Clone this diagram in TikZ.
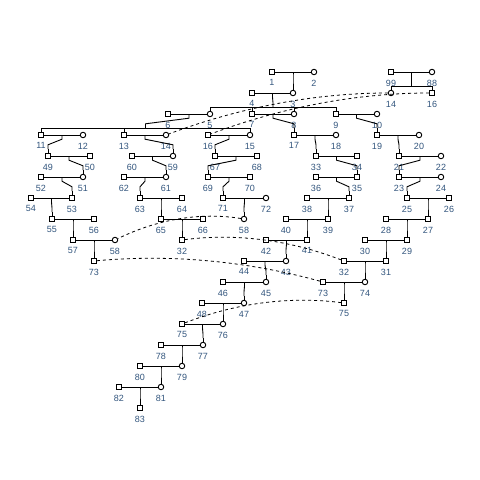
\documentclass[tikz,border=0pt]{standalone}
\usepackage{fontspec}
\setmainfont{Liberation Sans}
\usetikzlibrary{calc}
\usetikzlibrary{positioning}

\definecolor{labelcol}{RGB}{50,85,125}

\tikzset{
  male/.style={draw, rectangle, minimum size=5pt, inner sep=0pt, fill=white},
  female/.style={draw, circle, minimum size=5.5pt, inner sep=0pt, fill=white},
  every label/.style={font=\fontsize{9}{10}\selectfont, text=labelcol},
  dupl/.style={line width=0.8pt, dash pattern=on 3pt off 3pt}
}

% parents #1 #2, first child #3, last child #4
\newcommand{\sibs}[4]{%
  \draw ($(#1)!.5!(#2)$) -- ++(0,4.2) -- ($(#3)!.5!(#4)+(0,-11.2)$) -- ++(0,4.2);
  \draw ($(#3)+(0,-7)$) -- ($(#4)+(0,-7)$);}

% same person drawn twice
\newcommand{\dup}[2]{%
  \coordinate (top) at ($(#1)!.5!(#2)+(0,-21)$);
  \draw[dupl] (#1) .. controls ($(#1)!2/3!(top)$) and ($(#2)!2/3!(top)$) .. (#2);}

\begin{document}
\begin{tikzpicture}[x=1pt, y=-1pt, line width=0.9pt, label distance=1pt]
\useasboundingbox (0,0) rectangle (480,480);

% generation 1
\node[male,label=below:1] (1) at (272,72) {};
\node[female,label=below:2] (2) at (314,72) {};
\node[male,label=below:99] (99) at (391,72) {};
\node[female,label=below:88] (88) at (432,72) {};

% generation 2
\node[male,label=below:4] (4) at (252,93) {};
\node[female,label=below:3] (3) at (293,93) {};
\node[female,label=below:14] (14a) at (391,93) {};
\node[male,label=below:16] (16a) at (432,93) {};

% generation 3
\node[male,label=below:6] (6) at (168,114) {};
\node[female,label=below:5] (5) at (210,114) {};
\node[male,label=below:7] (7) at (252,114) {};
\node[female,label=below:8] (8) at (294,114) {};
\node[male,label=below:9] (9) at (336,114) {};
\node[female,label=below:10] (10) at (377,114) {};

% generation 4
\node[male,label=below:11] (11) at (41,135) {};
\node[female,label=below:12] (12) at (83,135) {};
\node[male,label=below:13] (13) at (124,135) {};
\node[female,label=below:14] (14b) at (166,135) {};
\node[male,label=below:16] (16b) at (208,135) {};
\node[female,label=below:15] (15) at (250,135) {};
\node[male,label=below:17] (17) at (294,135) {};
\node[female,label=below:18] (18) at (336,135) {};
\node[male,label=below:19] (19) at (377,135) {};
\node[female,label=below:20] (20) at (419,135) {};

% generation 5
\node[male,label=below:49] (49) at (48,156) {};
\node[male,label=below:50] (50) at (90,156) {};
\node[male,label=below:60] (60) at (132,156) {};
\node[female,label=below:59] (59) at (173,156) {};
\node[male,label=below:67] (67) at (215,156) {};
\node[male,label=below:68] (68) at (257,156) {};
\node[male,label=below:33] (33) at (316,156) {};
\node[male,label=below:34] (34) at (357,156) {};
\node[male,label=below:21] (21) at (399,156) {};
\node[female,label=below:22] (22) at (441,156) {};

% generation 6
\node[male,label=below:52] (52) at (41,177) {};
\node[female,label=below:51] (51) at (83,177) {};
\node[male,label=below:62] (62) at (124,177) {};
\node[female,label=below:61] (61) at (166,177) {};
\node[male,label=below:69] (69) at (208,177) {};
\node[male,label=below:70] (70) at (250,177) {};
\node[male,label=below:36] (36) at (316,177) {};
\node[male,label=below:35] (35) at (357,177) {};
\node[male,label=below:23] (23) at (399,177) {};
\node[female,label=below:24] (24) at (441,177) {};

% generation 7
\node[male,label=below:54] (54) at (31,198) {};
\node[male,label=below:53] (53) at (72,198) {};
\node[male,label=below:63] (63) at (140,198) {};
\node[male,label=below:64] (64) at (182,198) {};
\node[male,label=below:71] (71) at (223,198) {};
\node[female,label=below:72] (72) at (266,198) {};
\node[male,label=below:38] (38) at (307,198) {};
\node[male,label=below:37] (37) at (349,198) {};
\node[male,label=below:25] (25) at (407,198) {};
\node[male,label=below:26] (26) at (449,198) {};

% generation 8
\node[male,label=below:55] (55) at (52,219) {};
\node[male,label=below:56] (56) at (94,219) {};
\node[male,label=below:65] (65) at (161,219) {};
\node[male,label=below:66] (66) at (203,219) {};
\node[female,label=below:58] (58a) at (244,219) {};
\node[male,label=below:40] (40) at (286,219) {};
\node[male,label=below:39] (39) at (328,219) {};
\node[male,label=below:28] (28) at (386,219) {};
\node[male,label=below:27] (27) at (428,219) {};

% generation 9
\node[male,label=below:57] (57) at (73,240) {};
\node[female,label=below:58] (58b) at (115,240) {};
\node[male,label=below:32] (32a) at (182,240) {};
\node[male,label=below:42] (42) at (266,240) {};
\node[male,label=below:41] (41) at (307,240) {};
\node[male,label=below:30] (30) at (365,240) {};
\node[male,label=below:29] (29) at (407,240) {};

% generation 10
\node[male,label=below:73] (73a) at (94,261) {};
\node[male,label=below:44] (44) at (244,261) {};
\node[female,label=below:43] (43) at (286,261) {};
\node[male,label=below:32] (32b) at (344,261) {};
\node[male,label=below:31] (31) at (386,261) {};

% generation 11
\node[male,label=below:46] (46) at (223,282) {};
\node[female,label=below:45] (45) at (266,282) {};
\node[male,label=below:73] (73b) at (323,282) {};
\node[female,label=below:74] (74) at (365,282) {};

% generation 12 and below
\node[male,label=below:48] (48) at (202,303) {};
\node[female,label=below:47] (47) at (244,303) {};
\node[male,label=below:75] (75a) at (344,303) {};
\node[male,label=below:75] (75b) at (182,324) {};
\node[female,label=below:76] (76) at (223,324) {};
\node[male,label=below:78] (78) at (161,345) {};
\node[female,label=below:77] (77) at (203,345) {};
\node[male,label=below:80] (80) at (140,366) {};
\node[female,label=below:79] (79) at (182,366) {};
\node[male,label=below:82] (82) at (119,387) {};
\node[female,label=below:81] (81) at (161,387) {};
\node[male,label=below:83] (83) at (140,408) {};

% marriages
\foreach \a/\b in {1/2, 99/88, 4/3, 6/5, 7/8, 9/10, 11/12, 13/14b, 16b/15,
    17/18, 19/20, 49/50, 60/59, 67/68, 33/34, 21/22, 52/51, 62/61, 69/70,
    36/35, 23/24, 54/53, 63/64, 71/72, 38/37, 25/26, 55/56, 65/66, 40/39,
    28/27, 57/58b, 42/41, 30/29, 44/43, 32b/31, 46/45, 73b/74, 48/47,
    75b/76, 78/77, 80/79, 82/81}
  \draw (\a) -- (\b);

% parents to sibships
\foreach \p/\q/\f/\l in {1/2/3/3, 99/88/14a/16a, 4/3/5/9, 6/5/11/15, 7/8/17/17,
    9/10/19/19, 11/12/49/49, 13/14b/59/59, 16b/15/67/67, 17/18/33/33,
    19/20/21/21, 49/50/51/51, 60/59/61/61, 67/68/69/69, 33/34/35/35,
    21/22/23/23, 52/51/53/53, 62/61/63/63, 69/70/71/71, 36/35/37/37,
    23/24/25/25, 54/53/55/55, 63/64/65/65, 71/72/58a/58a, 38/37/39/39,
    25/26/27/27, 55/56/57/57, 65/66/32a/32a, 40/39/41/41, 28/27/29/29,
    57/58b/73a/73a, 42/41/43/43, 30/29/31/31, 44/43/45/45, 32b/31/74/74,
    46/45/47/47, 73b/74/75a/75a, 48/47/76/76, 75b/76/77/77, 78/77/79/79,
    80/79/81/81, 82/81/83/83}
  \sibs{\p}{\q}{\f}{\l};

% legs of the children
\foreach \c in {3, 14a, 16a, 5, 7, 8, 9, 11, 13, 15, 17, 19, 49, 59, 67, 33,
    21, 51, 61, 69, 35, 23, 53, 63, 71, 37, 25, 55, 65, 58a, 39, 27, 57,
    32a, 41, 29, 73a, 43, 31, 45, 74, 47, 75a, 76, 77, 79, 81, 83}
  \draw (\c.north) -- ($(\c)+(0,-7)$);

% duplicates
\dup{14a}{14b}
\dup{16a}{16b}
\dup{58a}{58b}
\dup{32a}{32b}
\dup{73a}{73b}
\dup{75a}{75b}

\end{tikzpicture}
\end{document}
